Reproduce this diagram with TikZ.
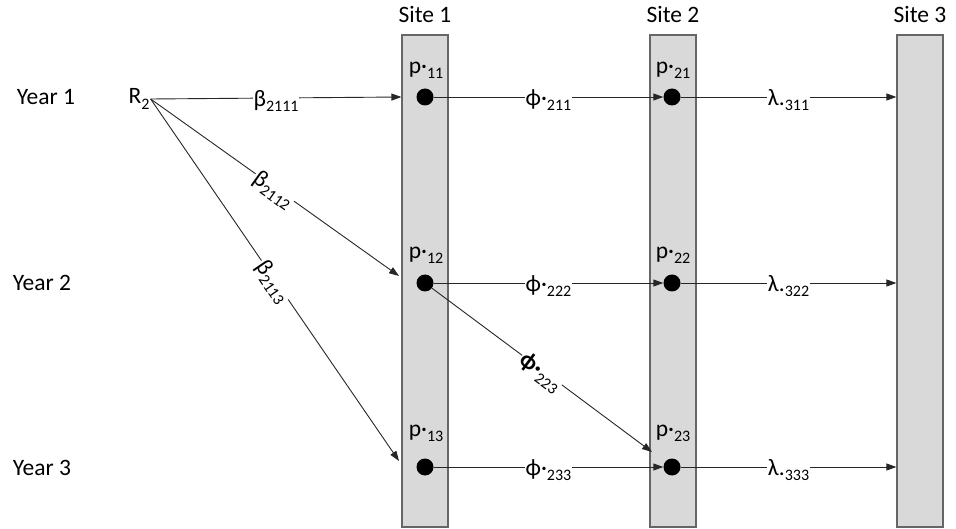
\documentclass[tikz,border=0pt]{standalone}
\usepackage{fontspec}
\setmainfont{Carlito}
\usetikzlibrary{arrows.meta}
\newcommand{\sbs}[1]{\raisebox{-0.22em}{\fontsize{16}{18}\selectfont #1}}

\begin{document}
\begin{tikzpicture}[x=1pt,y=-1pt,
    every node/.style={font=\fontsize{23.5}{27}\selectfont},
    site/.style={draw=black!60, line width=1.2pt, fill=gray!30, minimum width=46pt, minimum height=492pt, inner sep=0pt},
    dot/.style={circle, fill=black, minimum size=17pt, inner sep=0pt},
    flow/.style={draw=black!85, line width=0.9pt, -{Triangle[length=10pt,width=7pt]}},
    lbl/.style={fill=white, inner sep=1pt, yshift=-3pt}]
        \useasboundingbox (0,0) rectangle (956,529);

        \node[site] (s1) at (425,281) {};
        \node[site] (s2) at (673,281) {};
        \node[site] (s3) at (920,281) {};

        \node (t1) at (425,15) {Site 1};
        \node (t2) at (673,15) {Site 2};
        \node (t3) at (920,15) {Site 3};

        \node (y1) at (46,97) {Year 1};
        \node (y2) at (42,283) {Year 2};
        \node (y3) at (42,468) {Year 3};

        \node[inner sep=1pt] (r) at (139,99) {R\sbs{2}};

        \node[dot] (d11) at (425,97) {};
        \node[dot] (d12) at (425,283) {};
        \node[dot] (d13) at (425,467) {};
        \node[dot] (d21) at (672,97) {};
        \node[dot] (d22) at (672,283) {};
        \node[dot] (d23) at (672,467) {};

        \node (p11) at (426,70) {p·\sbs{11}};
        \node (p12) at (426,255) {p·\sbs{12}};
        \node (p13) at (426,433) {p·\sbs{13}};
        \node (p21) at (673,70) {p·\sbs{21}};
        \node (p22) at (673,255) {p·\sbs{22}};
        \node (p23) at (673,433) {p·\sbs{23}};

        \coordinate (a12) at (399,276);
        \coordinate (a13) at (399,461);
        \coordinate (a23) at (652,452);

        \draw[flow] (r.east) -- node[lbl] {β\sbs{2111}} (s1.west |- d11);
        \draw[flow] (r.east) -- node[lbl, sloped] {β\sbs{2112}} (a12);
        \draw[flow] (r.east) -- node[lbl, sloped] {β\sbs{2113}} (a13);

        \draw[flow] (d11) -- node[lbl] {ϕ·\sbs{211}} (d21);
        \draw[flow] (d12) -- node[lbl] {ϕ·\sbs{222}} (d22);
        \draw[flow] (d13) -- node[lbl] {ϕ·\sbs{233}} (d23);
        \draw[flow] (d12) -- node[lbl, sloped] {\textbf{ϕ·}\sbs{223}} (a23);

        \draw[flow] (d21) -- node[lbl] {λ.\sbs{311}} (s3.west |- d21);
        \draw[flow] (d22) -- node[lbl] {λ.\sbs{322}} (s3.west |- d22);
        \draw[flow] (d23) -- node[lbl] {λ.\sbs{333}} (s3.west |- d23);

    \end{tikzpicture}
\end{document}
